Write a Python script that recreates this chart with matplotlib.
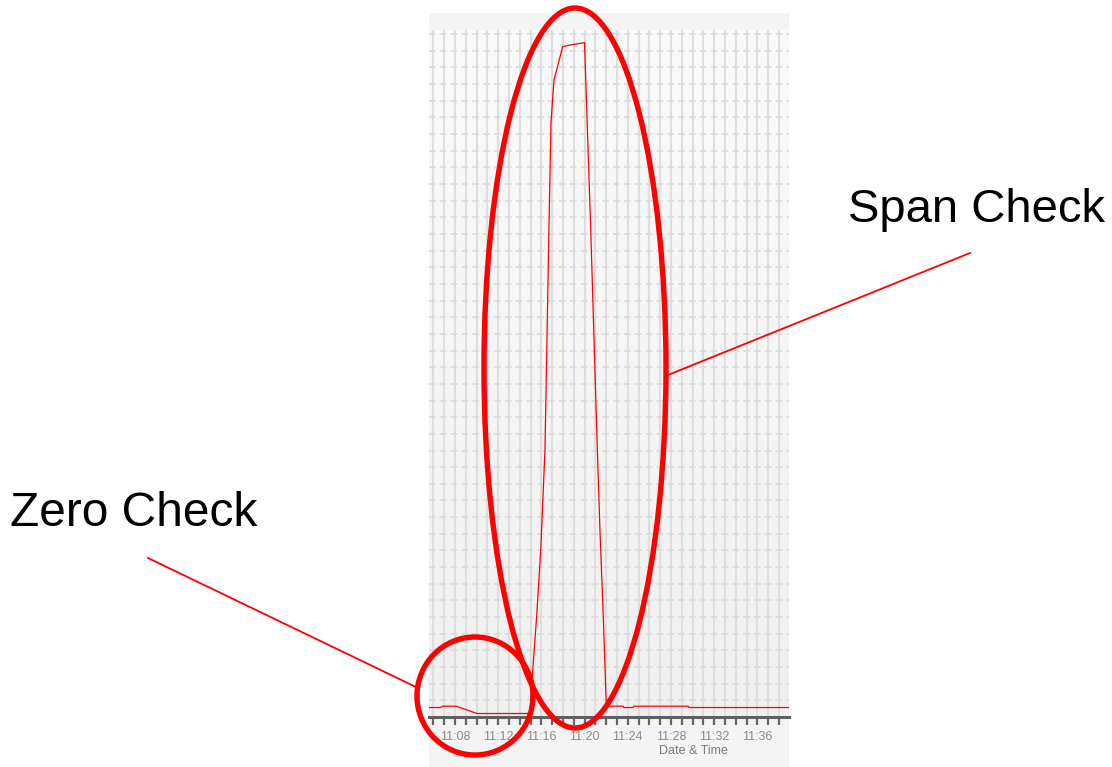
import numpy as np
import matplotlib
matplotlib.use("Agg")
import matplotlib.pyplot as plt
from matplotlib.patches import Ellipse, Rectangle
from matplotlib.lines import Line2D

plt.rcParams["font.family"] = ["Liberation Sans", "DejaVu Sans"]

# 数据: 分钟 (11:00 之后), 浓度
minutes = [5.59, 6.61, 6.89, 8.09, 10.04, 14.94, 15.22, 15.56, 15.94, 16.33,
           16.73, 16.89, 17.05, 17.17, 17.97, 18.65, 19.99, 20.10, 20.56,
           21.18, 21.43, 21.73, 21.98, 22.03, 23.56, 23.65, 24.48, 24.57,
           29.57, 29.67, 38.93]
values = [5.7, 5.7, 6.5, 6.5, 2.1, 2.1, 30.3, 60.3, 100.5, 160.5,
          304.5, 356.7, 372.3, 382.5, 402.5, 403.5, 404.9, 384.3, 294.3,
          160.5, 110.7, 60.3, 12.3, 6.5, 6.5, 5.7, 5.7, 6.5,
          6.5, 5.7, 5.7]
label_minutes = [8, 12, 16, 20, 24, 28, 32, 36]
x_range = (5.59, 38.93)
y_range = (0, 412.5)

W, H = 1112, 767
fig = plt.figure(figsize=(W / 100, H / 100), dpi=100)
fig.patch.set_facecolor("white")

# 图表容器背景
fig.add_artist(Rectangle((429, 0), 360, H - 13, transform=None,
                         facecolor="#f4f4f4", edgecolor="none", zorder=0))

ax = fig.add_axes([429 / W, 1 - 717 / H, 360 / W, (717 - 30) / H])
ax.set_facecolor("#f4f4f4")
grad = np.linspace(0, 1, 256).reshape(-1, 1)
ax.imshow(grad, extent=[0, 1, 0, 1], transform=ax.transAxes, aspect="auto",
          cmap=matplotlib.colors.LinearSegmentedColormap.from_list(
              "bg", ["#fafafa", "#f0f0f0"]), zorder=0)

ax.plot(minutes, values, color="#ff0000", lw=0.9, zorder=3)
ax.set_xlim(*x_range)
ax.set_ylim(*y_range)

# 网格
for m in range(6, 39):
    ax.axvline(m, color="#dedede", lw=1.5, zorder=1)
for v in range(10, 420, 10):
    ax.axhline(v, color="#dadada", lw=1.2, ls=(0, (4, 2.5)), zorder=1)

ax.set_xticks(range(6, 39))
ax.set_xticklabels([f"11:{m:02d}" if m in label_minutes else "" for m in range(6, 39)],
                   fontsize=9, color="#8a8a8a")
ax.tick_params(axis="x", length=6, width=1.6, color="#666666", pad=4)
ax.set_yticks([])
for s in ["top", "left", "right"]:
    ax.spines[s].set_visible(False)
ax.spines["bottom"].set_color("#606060")
ax.spines["bottom"].set_linewidth(2.2)

fig.text(693 / W, 1 - 751 / H, "Date & Time", ha="center", va="center",
         fontsize=9, color="#7a7a7a")

# 标注
red = "#ff0000"
fig.add_artist(Ellipse((575, H - 368), 182, 720, transform=None, fill=False,
                       edgecolor=red, lw=3.9, zorder=10))
fig.add_artist(Ellipse((475, H - 696), 116, 118, transform=None, fill=False,
                       edgecolor=red, lw=3.9, zorder=10))
fig.add_artist(Line2D([148, 418], [H - 558, H - 688], transform=None,
                      color=red, lw=1.3, zorder=10))
fig.add_artist(Line2D([668, 970], [H - 375, H - 253], transform=None,
                      color=red, lw=1.3, zorder=10))
fig.text(10 / W, 1 - 513 / H, "Zero Check", ha="left", va="center",
         fontsize=34.5, color="black")
fig.text(848 / W, 1 - 210 / H, "Span Check", ha="left", va="center",
         fontsize=34, color="black")

fig.savefig("out.png", dpi=100)
